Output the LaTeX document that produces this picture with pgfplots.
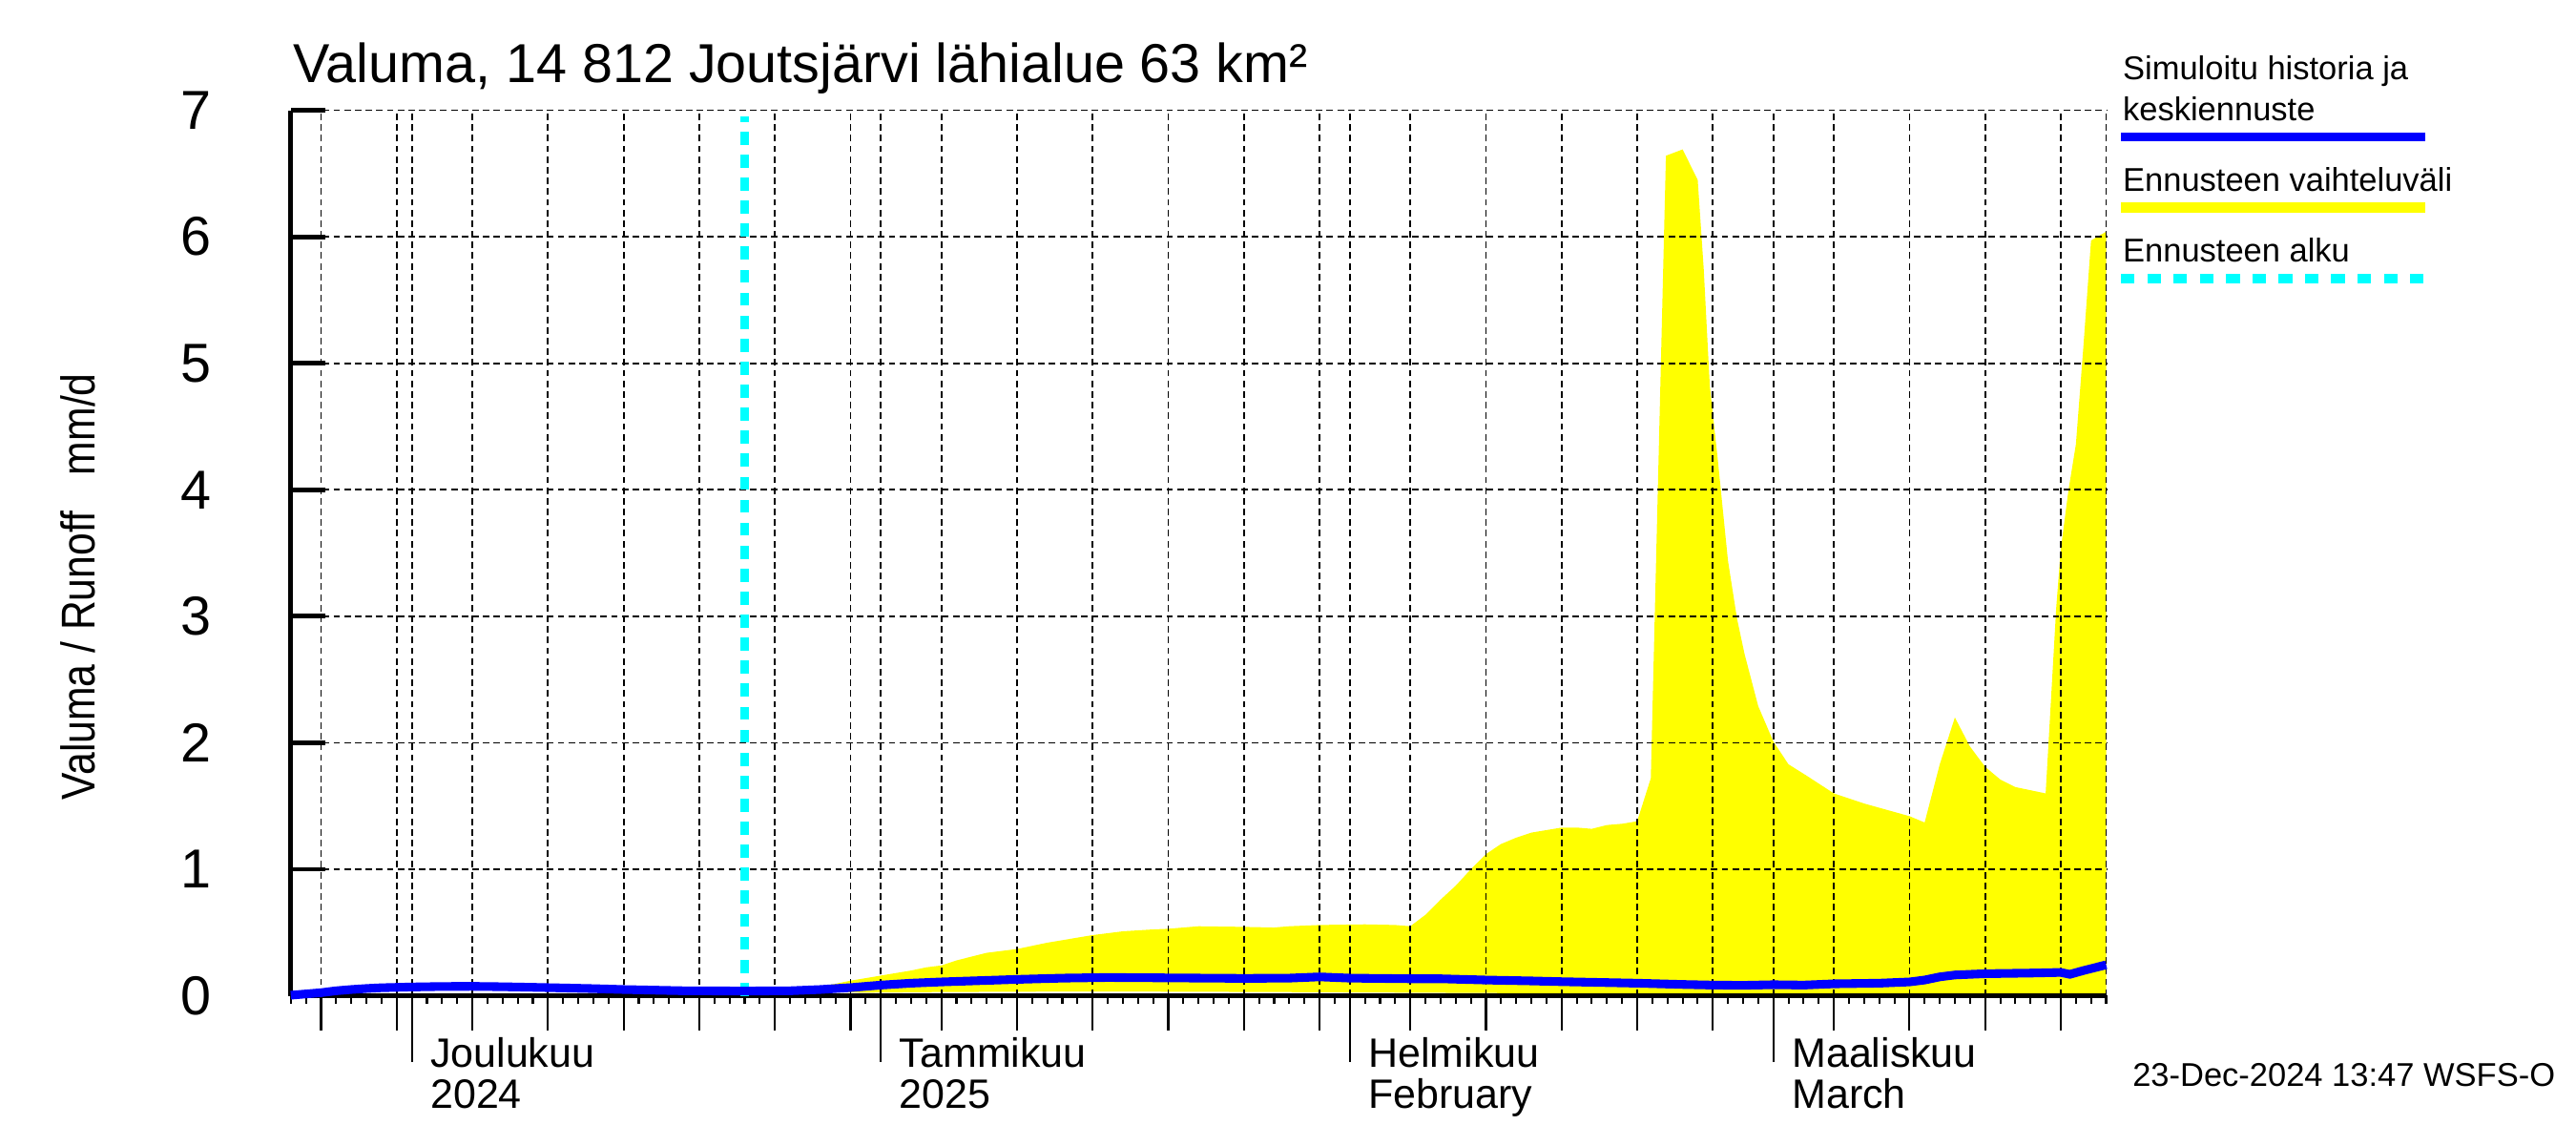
\documentclass[border=0pt]{standalone}
\usepackage{fontspec}
\setmainfont{Liberation Sans}
\newfontfamily\narrowfont[FakeStretch=0.86]{Liberation Sans}
\usepackage{pgfplots}
\pgfplotsset{compat=1.18}

\definecolor{simblue}{RGB}{0,0,255}
\definecolor{bandyellow}{RGB}{255,255,0}
\definecolor{startcyan}{RGB}{0,255,255}

% days counted from 1 Dec 2024 (day 0)
\begin{document}
\begin{tikzpicture}
\begin{axis}[
  set layers,
  at={(17.7mm,9.09mm)}, anchor=south west,
  width=110.5mm, height=53.9mm, scale only axis,
  xmin=-8, xmax=112, ymin=0, ymax=7,
  clip=false,
  axis x line*=bottom, axis y line*=left,
  axis line style={line width=0.8pt, -},
  xtick align=outside, ytick align=inside,
  major tick length=2.1mm, minor tick length=0.5mm,
  xtick={-6,-1,0,4,9,14,19,24,29,31,35,40,45,50,55,60,62,66,71,76,81,86,90,94,99,104,109},
  minor xtick={-8,...,112},
  xticklabels={},
  x tick style={line width=0.35pt, black},
  ytick={0,...,7},
  y tick style={line width=0.8pt, black},
  /pgf/number format/assume math mode=true,
  yticklabel style={font=\fontsize{9.5}{10}\selectfont, anchor=east, xshift=-3.6mm},
  grid=major,
  grid style={black, line width=0.3pt, dash pattern=on 0.4mm off 0.25mm},
  extra x ticks={0,31,62,90},
  extra x tick labels={{Joulukuu\\2024},{Tammikuu\\2025},{Helmikuu\\February},{Maaliskuu\\March}},
  extra x tick style={grid=none, major tick length=4mm,
    tick style={line width=0.5pt, black},
    xticklabel style={anchor=north west, align=left,
      font=\fontsize{7.1}{7.1}\selectfont, xshift=-0.1mm, yshift=2.7mm}},
]
% forecast range: upper bound forward, lower bound back
\addplot[fill=bandyellow, draw=none, on layer=axis background] coordinates {
  (22,0.038) (24,0.045) (26,0.06) (27,0.075) (28,0.095) (29,0.12) (30,0.14)
  (31,0.16) (32,0.18) (33,0.2) (34,0.225) (35,0.24) (36,0.28) (37,0.31)
  (38,0.34) (40,0.37) (42,0.42) (44,0.46) (45,0.48) (47,0.51) (49,0.525)
  (50,0.53) (52,0.55) (55,0.545) (57,0.54) (58,0.55) (60,0.56) (63,0.565)
  (65,0.56) (66,0.55) (67,0.64) (68,0.76) (69,0.87) (70,1.0) (71,1.12)
  (72,1.2) (73,1.25) (74,1.29) (75,1.31) (76,1.33) (77,1.33) (78,1.32)
  (79,1.35) (80,1.36) (81,1.38) (81.9,1.72) (82.9,6.64) (84,6.69) (85,6.45)
  (85.4,5.74) (85.8,4.82) (86.3,4.27) (87,3.44) (87.6,2.98) (88.1,2.70)
  (89,2.29) (90,2.01) (91,1.83) (92.2,1.74) (94,1.60) (96,1.52) (99,1.42)
  (100,1.37) (101,1.83) (102,2.20) (103,1.97) (104,1.81) (105,1.71)
  (106,1.65) (108,1.60) (108.7,3.07) (109,3.53) (109.5,3.99) (110,4.36)
  (110.5,5.14) (111,5.97) (112,6.04)
  (112,0.01) (100,0.01) (90,0.01) (76,0.01) (75,0.02) (66,0.025)
  (57,0.03) (45,0.035) (35,0.03) (30,0.025) (26,0.03) (22,0.038)
} -- cycle;
\draw[black, line width=0.3pt, dash pattern=on 0.4mm off 0.25mm]
  (axis cs:112,0) -- (axis cs:112,7);
% forecast start
\addplot[startcyan, line width=0.5mm, dash pattern=on 0.8mm off 0.6mm] coordinates {(22,0) (22,6.95)};
% simulated history and mean forecast
\addplot[simblue, line width=1.5pt] coordinates {
  (-8,0.005) (-7,0.015) (-6,0.025) (-5,0.04) (-4,0.05) (-3,0.058) (-2,0.064)
  (0,0.07) (2,0.074) (4,0.075) (6,0.072) (9,0.065) (12,0.057) (14,0.05)
  (16,0.045) (18,0.04) (22,0.038) (25,0.04) (27,0.05) (29,0.065) (31,0.085)
  (33,0.1) (35,0.11) (38,0.122) (40,0.13) (43,0.14) (46,0.145) (50,0.142)
  (55,0.138) (58,0.14) (60,0.15) (62,0.14) (66,0.135) (68,0.135) (71,0.125)
  (74,0.118) (76,0.112) (81,0.1) (84,0.09) (86,0.085) (88,0.083) (90,0.088)
  (92,0.085) (94,0.095) (97,0.1) (99,0.11) (100,0.125) (101,0.15) (102,0.165)
  (104,0.175) (107,0.18) (109,0.185) (109.6,0.17) (110.5,0.2) (112,0.245)
};
\end{axis}
% title and axis label
\node[anchor=base west, inner sep=0pt, font=\fontsize{9.5}{10}\selectfont]
  at (17.8mm,64.7mm) {Valuma, 14 812 Joutsjärvi lähialue 63 km²};
\node[rotate=90, anchor=base, inner sep=0pt, font=\narrowfont\fontsize{8.2}{9}\selectfont]
  at (5.8mm,34.0mm) {Valuma / Runoff\hspace{2.2mm}mm/d};
% legend
\begin{scope}[font=\fontsize{5.7}{6}\selectfont]
\node[anchor=base west, inner sep=0pt] at (129.15mm,64.86mm) {Simuloitu historia ja};
\node[anchor=base west, inner sep=0pt] at (129.15mm,62.34mm) {keskiennuste};
\draw[simblue, line width=1.5pt] (129.1mm,61.36mm) -- (147.6mm,61.36mm);
\node[anchor=base west, inner sep=0pt] at (129.15mm,58.05mm) {Ennusteen vaihteluväli};
\draw[bandyellow, line width=1.9pt] (129.1mm,57.08mm) -- (147.6mm,57.08mm);
\node[anchor=base west, inner sep=0pt] at (129.15mm,53.73mm) {Ennusteen alku};
\draw[startcyan, line width=0.54mm, dash pattern=on 0.83mm off 0.77mm]
  (129.1mm,52.74mm) -- (147.6mm,52.74mm);
\node[anchor=base east, inner sep=0pt] at (155.6mm,3.6mm) {23-Dec-2024 13:47 WSFS-O};
\end{scope}
\pgfresetboundingbox
\path[use as bounding box] (0,0) rectangle (156.8mm,69.7mm);
\end{tikzpicture}
\end{document}
